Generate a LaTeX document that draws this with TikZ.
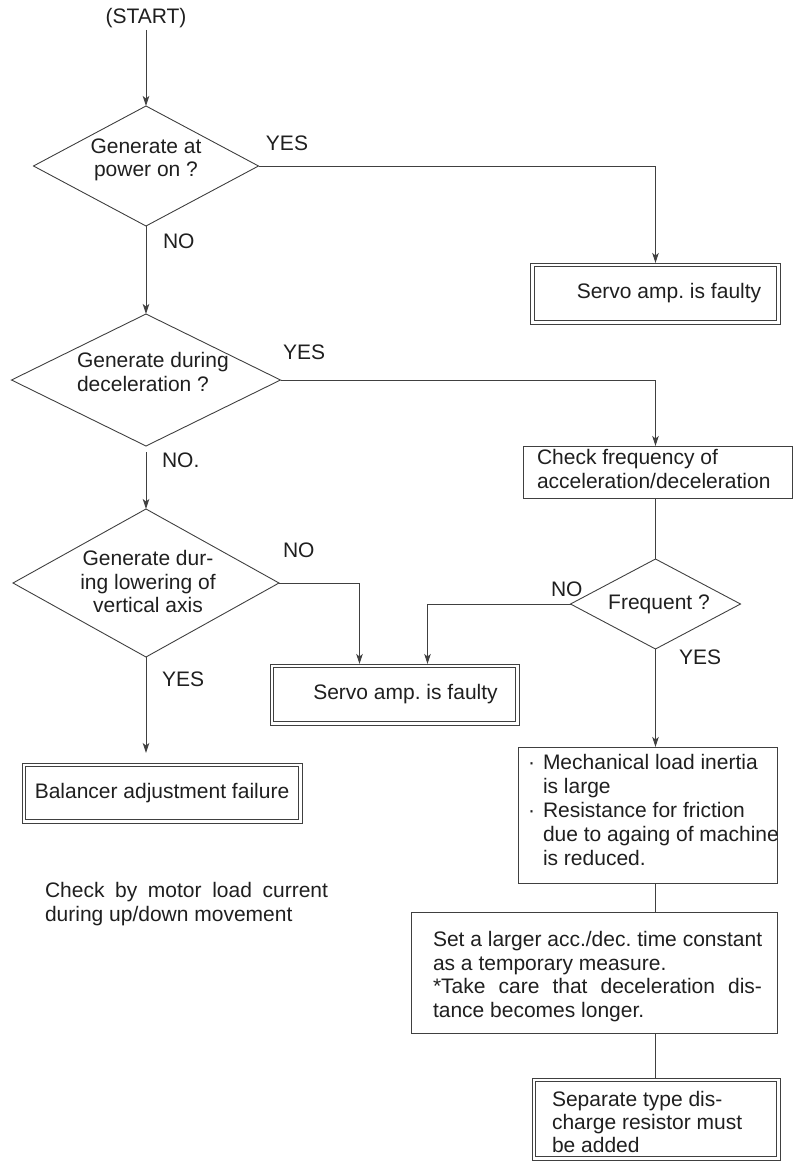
\documentclass[tikz,border=0pt]{standalone}
\usepackage{fontspec}
\setmainfont{Liberation Sans}
\usetikzlibrary{arrows.meta,shapes.geometric}
\definecolor{lc}{gray}{0.25}
\definecolor{txt}{gray}{0.12}
\frenchspacing
\newcommand\chartfont{\fontsize{21pt}{23.6pt}\selectfont\frenchspacing}
\newcommand\innerframe[1]{\draw[ln, line width=0.8pt] ([shift={(3.7pt,-3.7pt)}]#1.north west) rectangle ([shift={(-3.7pt,3.7pt)}]#1.south east);}
\begin{document}
\begin{tikzpicture}[x=1pt,y=-1pt,
  every node/.style={font=\chartfont, text=txt, inner sep=0pt, outer sep=0pt},
  ln/.style={draw=lc, line width=0.9pt},
  arr/.style={ln, -{Stealth[length=10pt,width=6.5pt,inset=2.5pt]}},
  dia/.style={diamond, draw=lc, line width=0.9pt},
  box/.style={rectangle, draw=lc, line width=0.9pt},
  dbox/.style={rectangle, draw=lc, line width=0.8pt},
  lbl/.style={anchor=base west},
  blk/.style={anchor=north west, align=left},
]
\path[use as bounding box] (0,0) rectangle (793,1162);

% start
\node[anchor=base] (start) at (146,23.5) {(START)};

% diamonds
\node[dia, minimum width=225pt, minimum height=120pt] (d1) at (146,166) {};
\node[anchor=north, align=center] (d1t) at (146,138.7) {Generate at\\power on ?};

\node[dia, minimum width=269pt, minimum height=132pt] (d2) at (146,380) {};
\node[blk] (d2t) at (77,352.2) {Generate during\\deceleration ?};

\node[dia, minimum width=266pt, minimum height=148pt] (d3) at (146,583) {};
\node[anchor=north, align=center] (d3t) at (148,550.4) {Generate dur-\\ing lowering of\\vertical axis};

\node[dia, shape aspect=1.9, minimum width=170pt, minimum height=90pt] (fq) at (655.5,604) {\hspace*{7pt}Frequent ?};

% double boxes
\node[dbox, minimum width=249.3pt, minimum height=61pt] (b1) at (655.5,293.5) {\hspace*{27pt}Servo amp. is faulty};
\innerframe{b1}
\node[dbox, minimum width=249pt, minimum height=61pt] (b2) at (394.5,694.5) {\hspace*{22pt}Servo amp. is faulty};
\innerframe{b2}
\node[dbox, minimum width=280pt, minimum height=60pt] (bb) at (162,793) {Balancer adjustment failure};
\innerframe{bb}
\node[dbox, minimum width=248pt, minimum height=82pt] (fb) at (656,1119) {};
\innerframe{fb}
\node[blk, font=\fontsize{21pt}{23pt}\selectfont\frenchspacing] (fbt) at (552,1091.7)
  {Separate type dis-\\charge resistor must\\be added};

% single boxes
\node[box, minimum width=269pt, minimum height=52pt] (cb) at (657.5,472) {};
\node[blk] (cbt) at (537,449.7) {Check frequency of\\acceleration/deceleration};

\node[box, minimum width=259pt, minimum height=136pt] (mb) at (647.5,815) {};
\node[blk, font=\fontsize{21pt}{24pt}\selectfont\frenchspacing] (mbt) at (528,754.7)
  {\makebox[15pt][l]{·}Mechanical load inertia\\
   \hspace*{15pt}is large\\
   \makebox[15pt][l]{·}Resistance for friction\\
   \hspace*{15pt}due to againg of machine\\
   \hspace*{15pt}is reduced.};

\node[box, minimum width=366pt, minimum height=121pt] (sb) at (594,972.5) {};
\node[blk] (sbt) at (433,931.2)
  {Set a larger acc./dec. time constant\\
   as a temporary measure.\\
   \makebox[329pt][s]{*Take care that deceleration dis-}\\
   tance becomes longer.};

% note
\node[blk] (note) at (45,882.7)
  {\makebox[283pt][s]{Check by motor load current}\\during up/down movement};

% labels
\node[anchor=base] (y1) at (287,150.7) {YES};
\node[lbl] (n1) at (163,248.3) {NO};
\node[lbl] (y2) at (283,359.3) {YES};
\node[lbl] (n2) at (162,467.3) {NO.};
\node[lbl] (n3) at (283,557.7) {NO};
\node[lbl] (y3) at (162,686.7) {YES};
\node[lbl] (nf) at (551,596.7) {NO};
\node[lbl] (yf) at (679,664) {YES};

% connectors
\draw[arr] (start.south) ++(0,2) -- (d1.north);
\draw[arr] (d1.east) -| (b1.north);
\draw[arr] (d1.south) -- (d2.north);
\draw[arr] (d2.east) -| (fq.north |- cb.north);
\draw[arr, shorten <=6pt] (d2.south) -- (d3.north);
\draw[arr] (d3.east) -| ([xshift=89.5pt]b2.north west);
\draw[arr, shorten >=10pt] (d3.south) -- (d3.south |- bb.north);
\draw[ln] (fq.north |- cb.south) -- (fq.north);
\draw[arr] (fq.west) -| ([xshift=157.5pt]b2.north west);
\draw[arr] (fq.south) -- (fq.south |- mb.north);
\draw[ln] (fq.south |- mb.south) -- (fq.south |- sb.north);
\draw[ln] (fq.south |- sb.south) -- (fq.south |- fb.north);
\end{tikzpicture}
\end{document}
